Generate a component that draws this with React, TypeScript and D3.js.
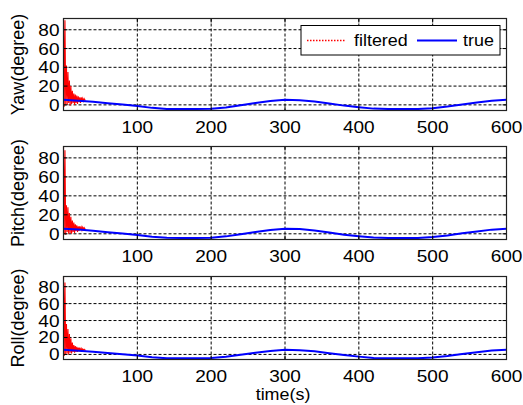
import React from "react";
import * as d3 from "d3";

// true attitude, sampled every 20 s
const trueTime = [0, 20, 40, 60, 80, 100, 120, 140, 160, 180, 200, 220, 240, 260, 280, 300, 320, 340, 360, 380, 400, 420, 440, 460, 480, 500, 520, 540, 560, 580, 600];
const yawTrue = [5.5, 4.5, 3.2, 1.8, 0.4, -1.2, -3.2, -4.3, -4.5, -4.5, -4.2, -2.8, -0.5, 2, 4, 5.5, 5, 3.6, 1.5, -0.8, -2.5, -4, -4.5, -4.5, -4.5, -3.5, -1.8, 0.5, 2.5, 4.5, 5.5];
const pitchTrue = [5.4, 4.5, 3.1, 1.7, 0.3, -1.3, -3.2, -4.2, -4.4, -4.4, -4.1, -2.7, -0.4, 2, 4, 5.4, 5, 3.5, 1.4, -0.9, -2.6, -4, -4.4, -4.4, -4.4, -3.4, -1.7, 0.5, 2.4, 4.4, 5.4];
const rollTrue = [5.4, 4.4, 3.1, 1.7, 0.3, -1.3, -3.3, -4.4, -4.6, -4.6, -4.2, -2.8, -0.5, 2, 4, 5.5, 5, 3.6, 1.5, -0.8, -2.6, -4.1, -4.6, -4.6, -4.6, -3.5, -1.8, 0.5, 2.5, 4.5, 5.5];

// filtered estimate during convergence (first 30 s)
const filtTime = [0, 1, 2, 3, 4, 5, 6, 7, 8, 9, 10, 11, 12, 13, 14, 15, 16, 17, 18, 19, 20, 21, 22, 23, 24, 25, 26, 27, 28, 29, 30];
const yawFilt = [93, -2, 90, 1, 42, 0, 35, 2, 26, -1, 20, 1, 15, 2, 12, 0, 11, 2, 10, 1, 9, 3, 8, 2, 8, 4, 7, 4, 6.5, 5, 5.2];
const pitchFilt = [92, 0, 88, -1, 30, 2, 28, 0, 22, 1, 18, 0, 14, 2, 12, 1, 10, 3, 9, 2, 8, 3, 8, 4, 7, 4, 7, 5, 6.5, 5, 5.1];
const rollFilt = [93, -2, 85, 0, 36, 1, 30, 0, 24, 2, 19, 1, 14, 3, 11, 2, 10, 3, 9, 3, 8, 4, 8, 4, 7, 4.5, 6.5, 5, 6, 5, 5.1];

const xTicks = [100, 200, 300, 400, 500, 600];
const yTicks = [0, 20, 40, 60, 80];
const panelNames = ["Yaw(degree)", "Pitch(degree)", "Roll(degree)"];

const W = 523;
const H = 405;
const left = 63.5;
const right = 506.5;
const panels = [
  { top: 18.5, bottom: 110.5, name: panelNames[0], tru: yawTrue, filt: yawFilt },
  { top: 146.5, bottom: 239.5, name: panelNames[1], tru: pitchTrue, filt: pitchFilt },
  { top: 276.5, bottom: 359.5, name: panelNames[2], tru: rollTrue, filt: rollFilt },
];
const font = "'Liberation Sans', Arial, sans-serif";
const sx = 1.12; // glyphs look a bit wide in the reference

const x = d3.scaleLinear().domain([0, 600]).range([left, right]);

function Panel({ p, showLegend }: any) {
  const y = d3.scaleLinear().domain([-6, 92]).range([p.bottom, p.top]);
  const line = d3
    .line<number>()
    .x((d, i) => x(trueTime[i]))
    .y((d) => y(d));
  const fline = d3
    .line<number>()
    .x((d, i) => x(filtTime[i]))
    .y((d) => Math.max(y(d), p.top));
  const midY = (p.top + p.bottom) / 2;
  return (
    <g>
      <rect x={left} y={p.top} width={right - left} height={p.bottom - p.top} fill="#fff" />
      {xTicks.map((t) => (
        <line key={"gx" + t} x1={x(t)} x2={x(t)} y1={p.top} y2={p.bottom} stroke="#000" strokeWidth={1} strokeDasharray="3,2" />
      ))}
      {yTicks.map((t) => (
        <line key={"gy" + t} x1={left} x2={right} y1={y(t)} y2={y(t)} stroke="#000" strokeWidth={1} strokeDasharray="3,2" />
      ))}
      <path d={fline(p.filt) || ""} fill="none" stroke="#ff0000" strokeWidth={1.1} />
      <path d={line(p.tru) || ""} fill="none" stroke="#0000ff" strokeWidth={2} />
      {xTicks.map((t) => (
        <g key={"tx" + t}>
          <line x1={x(t)} x2={x(t)} y1={p.bottom} y2={p.bottom - 4} stroke="#000" />
          <line x1={x(t)} x2={x(t)} y1={p.top} y2={p.top + 4} stroke="#000" />
          <text
            transform={`translate(${x(t)},${p.bottom + 22}) scale(${sx},1)`}
            textAnchor="middle"
            fontFamily={font}
            fontSize={17}
          >
            {t}
          </text>
        </g>
      ))}
      {yTicks.map((t) => (
        <g key={"ty" + t}>
          <line x1={left} x2={left + 4} y1={y(t)} y2={y(t)} stroke="#000" />
          <line x1={right} x2={right - 4} y1={y(t)} y2={y(t)} stroke="#000" />
          <text
            transform={`translate(${left - 4},${y(t) + 6}) scale(${sx},1)`}
            textAnchor="end"
            fontFamily={font}
            fontSize={17}
          >
            {t}
          </text>
        </g>
      ))}
      <rect x={left} y={p.top} width={right - left} height={p.bottom - p.top} fill="none" stroke="#222" strokeWidth={1.2} />
      <text
        transform={`translate(24,${midY}) rotate(-90)`}
        textAnchor="middle"
        fontFamily={font}
        fontSize={18}
      >
        {p.name}
      </text>
      {showLegend && (
        <g>
          <rect x={301} y={25.5} width={199} height={29.5} fill="#fff" stroke="#000" strokeWidth={1} />
          <line x1={307} x2={346} y1={40.5} y2={40.5} stroke="#ff0000" strokeWidth={1.5} strokeDasharray="1.5,1.5" />
          <text transform={`translate(354,46) scale(${sx},1)`} fontFamily={font} fontSize={16}>
            filtered
          </text>
          <line x1={417} x2={457} y1={40.5} y2={40.5} stroke="#0000ff" strokeWidth={2} />
          <text transform={`translate(463,46) scale(${sx},1)`} fontFamily={font} fontSize={16}>
            true
          </text>
        </g>
      )}
    </g>
  );
}

export default function App() {
  return (
    <svg
      width={W}
      height={H}
      style={{ position: "absolute", left: 0, top: 0, background: "#fff" }}
    >
      {panels.map((p, i) => (
        <Panel key={i} p={p} showLegend={i === 0} />
      ))}
      <text
        transform={`translate(283,400) scale(${sx},1)`}
        textAnchor="middle"
        fontFamily={font}
        fontSize={16}
      >
        time(s)
      </text>
    </svg>
  );
}
